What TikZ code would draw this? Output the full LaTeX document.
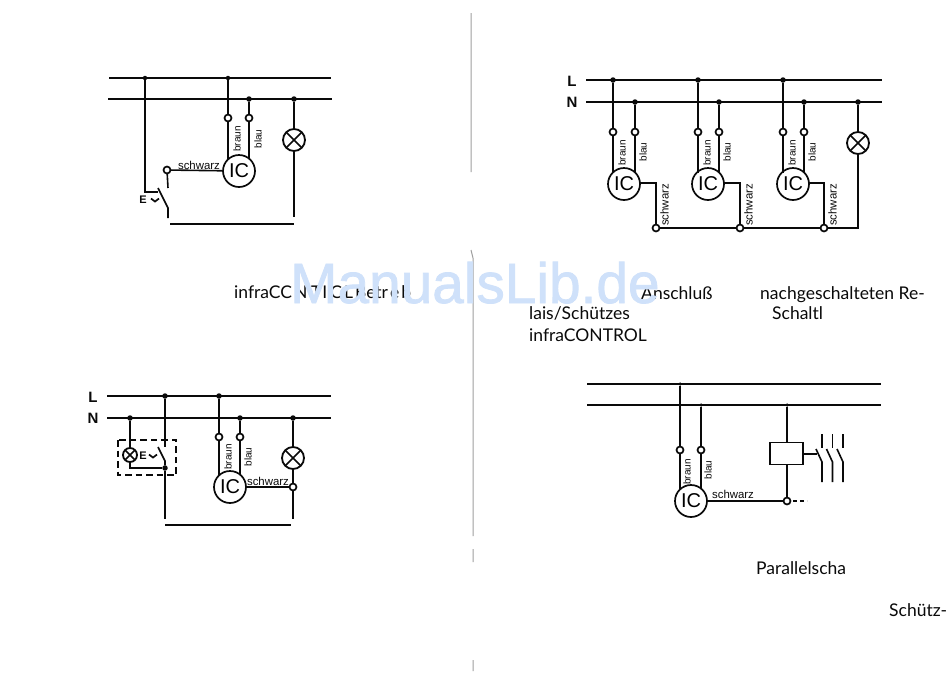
\documentclass[tikz,border=0pt]{standalone}
\usepackage{fontspec}
\setmainfont{Lato}
\newfontfamily\wirefont{Liberation Sans}
\newfontfamily\wmfont[FakeBold=1.3]{Liberation Sans}
\definecolor{wmark}{HTML}{CFE1FA}
\definecolor{ink}{HTML}{0A0A0A}
\tikzset{
  wire/.style={draw=ink,line width=1.6pt},
  bus/.style={draw=ink,line width=2.1pt},
  busthick/.style={draw=ink,line width=2.7pt},
  dot/.style={circle,fill=ink,draw=none,inner sep=0pt,outer sep=0pt,minimum size=5.5pt},
  term/.style={circle,draw=ink,line width=1.7pt,fill=white,inner sep=0pt,outer sep=0pt,minimum size=7pt},
  icnode/.style={circle,draw=ink,line width=1.7pt,fill=white,inner sep=0pt,outer sep=0pt,minimum size=32pt,font=\wirefont\fontsize{20}{20}\selectfont},
  lampnode/.style={circle,draw=ink,line width=1.8pt,fill=white,inner sep=0pt,outer sep=0pt,minimum size=#1,
    path picture={\draw[ink,line width=1.7pt] (path picture bounding box.north west)--(path picture bounding box.south east)
      (path picture bounding box.north east)--(path picture bounding box.south west);}},
  wl/.style={font=\wirefont\fontsize{10}{10}\selectfont,inner sep=0pt,text=ink},
  sl/.style={font=\wirefont\fontsize{11.4}{11}\selectfont,inner sep=0pt,text=ink},
  vl/.style={wl,rotate=90},
  vs/.style={sl,rotate=90},
  busl/.style={font=\wirefont\bfseries\fontsize{15}{15}\selectfont,inner sep=0pt,text=ink},
  el/.style={font=\wirefont\bfseries\fontsize{11}{11}\selectfont,inner sep=0pt,text=ink},
  captxt/.style={font=\fontsize{17.5}{18}\selectfont,inner sep=0pt,anchor=base west,text=ink},
  fold/.style={draw=gray!75,line width=1pt},
  relay/.style={rectangle,draw=ink,line width=1.7pt,fill=white,inner sep=0pt,outer sep=0pt,minimum width=33pt,minimum height=22pt}
}
\newcommand{\arrowmark}[1]{\draw[ink,line width=1.7pt] ([shift={(-4,-1.5)}]#1) -- ([shift={(0,1.5)}]#1) -- ([shift={(4,-1.5)}]#1);}
\begin{document}
\begin{tikzpicture}[x=1pt,y=-1pt]
\useasboundingbox (0,0) rectangle (950,673);
\fill[white] (0,0) rectangle (950,673);

% fold
\coordinate (f1) at (471,13); \coordinate (f2) at (471,172);
\coordinate (f0) at (471,250);
\coordinate (f3) at (473,258); \coordinate (f4) at (473,536);
\coordinate (f5) at (473,549); \coordinate (f6) at (473,562);
\coordinate (f7) at (473,660); \coordinate (f8) at (473,671);
\draw[fold] (f1)--(f2) (f3)--(f4) (f5)--(f6) (f7)--(f8) (f0)--(f3);

% ---------- diagram 1
\coordinate (aLw) at (109,78); \coordinate (aLe) at (331,78);
\coordinate (aNw) at (108,99); \coordinate (aNe) at (332,99);
\draw[bus] (aLw)--(aLe);
\draw[busthick] (aNw)--(aNe);
\node[dot,minimum size=4.5pt] (a1) at (145,78) {};
\node[dot,minimum size=4.5pt] (a2) at (228,78) {};
\node[dot] (a3) at (249,99) {};
\node[dot] (a4) at (294,99) {};
\node[term] (atb) at (228,118) {};
\node[term] (atu) at (249,118) {};
\node[icnode] (aic) at (239,171) {IC};
\node[lampnode=22pt] (alamp) at (294,140) {};
\node[term] (ats) at (167,170) {};
\coordinate (ac1) at (145,192); \coordinate (ac2) at (158,192);
\coordinate (as1) at (158,188); \coordinate (as2) at (168,208);
\coordinate (as3) at (168,218); \coordinate (as4) at (168,188);
\coordinate (al) at (294,217);
\coordinate (abw) at (170,224); \coordinate (abe) at (294,224);
\draw[wire] (a1)--(ac1)--(ac2);
\draw[wire] (as1)--(as2)--(as3);
\draw[wire] (ats)--(as4);
\draw[wire] (ats)--(aic);
\draw[wire] (a2)--(atb);
\draw[wire] (a3)--(atu);
\draw[wire] (atb)--(atb|-aic.135);
\draw[wire] (atu)--(atu|-aic.50);
\draw[wire] (a4)--(alamp) (alamp)--(al);
\draw[bus] (abw)--(abe);
\node[vl] (ab) at (237,139) {braun};
\node[vl] (au) at (258,139) {blau};
\node[sl] (as) at (199,165) {schwarz};
\node[el] (ae) at (143,200) {E};
\coordinate (am) at (155,200); \arrowmark{am}

% ---------- diagram 2
\coordinate (bLw) at (107,396); \coordinate (bLe) at (331,396);
\coordinate (bNw) at (107,418); \coordinate (bNe) at (331,418);
\draw[bus] (bLw)--(bLe);
\draw[bus] (bNw)--(bNe);
\node[busl] (bL) at (93,397) {L};
\node[busl] (bN) at (93,418) {N};
\node[dot] (b1) at (165,396) {};
\node[dot] (b2) at (219,396) {};
\node[dot] (b3) at (130,418) {};
\node[dot] (b4) at (240,418) {};
\node[dot] (b5) at (293,418) {};
\node[lampnode=14pt] (bsl) at (130,455) {};
\node[dot] (bj) at (165,468) {};
\coordinate (bc) at (130,468);
\coordinate (bs0) at (165,447); \coordinate (bs1) at (158,447); \coordinate (bs2) at (165,461);
\coordinate (bd) at (165,519);
\node[term] (btb) at (219,437) {};
\node[term] (btu) at (240,437) {};
\node[icnode] (bic) at (230,487) {IC};
\node[lampnode=22pt] (blamp) at (293,458) {};
\node[term] (bts) at (293,487) {};
\coordinate (bl) at (293,519);
\coordinate (bbw) at (165,525); \coordinate (bbe) at (291,525);
\draw[wire] (b1)--(bs0);
\draw[wire] (bs1)--(bs2)--(bj);
\draw[wire] (bj)--(bd);
\draw[wire] (b3)--(bsl);
\draw[wire] (bsl)--(bc)--(bj);
\draw[wire] (b2)--(btb);
\draw[wire] (b4)--(btu);
\draw[wire] (btb)--(btb|-bic.135);
\draw[wire] (btu)--(btu|-bic.50);
\draw[wire] (b5)--(blamp);
\draw[wire] (blamp)--(bts);
\draw[wire] (bts)--(bl);
\draw[wire] (bic)--(bts);
\draw[bus] (bbw)--(bbe);
\coordinate (bx1) at (118,440); \coordinate (bx2) at (176,475);
\draw[draw=ink,line width=1.4pt,dash pattern=on 6.5pt off 4pt] (bx1) rectangle (bx2);
\node[vl] (bb) at (228,457) {braun};
\node[vl] (bu) at (248,457) {blau};
\node[sl] (bs) at (268,481) {schwarz};
\node[el] (be) at (143,456) {E};
\coordinate (bm) at (153,456); \arrowmark{bm}

% ---------- diagram 3
\coordinate (cLw) at (586,80); \coordinate (cLe) at (882,80);
\coordinate (cNw) at (586,102); \coordinate (cNe) at (882,102);
\draw[bus] (cLw)--(cLe);
\draw[bus] (cNw)--(cNe);
\node[busl] (cL) at (572,81) {L};
\node[busl] (cN) at (572,102) {N};
\foreach \n/\icx/\bx/\ux/\sx in {1/624/613/635/656, 2/708/698/719/740, 3/793/783/804/824}{
  \node[dot] (cdb\n) at (\bx,80) {};
  \node[dot] (cdu\n) at (\ux,102) {};
  \node[term] (ctb\n) at (\bx,132) {};
  \node[term] (ctu\n) at (\ux,132) {};
  \node[icnode] (cic\n) at (\icx,184) {IC};
  \node[term] (cts\n) at (\sx,228) {};
  \coordinate (cc\n) at (\sx,183);
  \draw[wire] (cdb\n)--(ctb\n);
  \draw[wire] (cdu\n)--(ctu\n);
  \draw[wire] (ctb\n)--(ctb\n|-cic\n.135);
  \draw[wire] (ctu\n)--(ctu\n|-cic\n.50);
  \draw[wire] (cic\n.east|-cc\n)--(cc\n)--(cts\n);
  \node[vl] (cb\n) at (\bx+9,153) {braun};
  \node[vl] (cu\n) at (\ux+8,152) {blau};
  \node[vs] (cs\n) at (\sx+8.5,205) {schwarz};
}
\node[dot] (cd4) at (858,102) {};
\node[lampnode=22pt] (clamp) at (858,143) {};
\coordinate (cc4) at (858,228);
\draw[wire] (cd4)--(clamp);
\draw[wire] (clamp)--(cc4)--(cts3);
\draw[wire] (cts3)--(cts2);
\draw[wire] (cts2)--(cts1);

% ---------- diagram 4
\coordinate (dLw) at (587,384); \coordinate (dLe) at (881,384);
\coordinate (dNw) at (587,405); \coordinate (dNe) at (881,405);
\draw[bus,line width=1.5pt] (dLw)--(dLe);
\draw[bus] (dNw)--(dNe);
\node[dot,minimum size=3.5pt] (d1) at (680,384) {};
\node[dot,minimum size=3.5pt] (d2) at (701,405) {};
\node[dot,minimum size=3.5pt] (d3) at (787,405) {};
\node[term] (dtb) at (680,450) {};
\node[term] (dtu) at (701,450) {};
\node[icnode] (dic) at (691,501) {IC};
\node[relay] (drel) at (786.5,453.5) {};
\node[term] (dts) at (787,501) {};
\coordinate (dda) at (793,501); \coordinate (ddb) at (807,501);
\draw[wire] (d1)--(dtb);
\draw[wire] (d2)--(dtu);
\draw[wire] (dtb)--(dtb|-dic.135);
\draw[wire] (dtu)--(dtu|-dic.50);
\draw[wire] (d3)--(d3|-drel.north);
\draw[wire] (d3|-drel.south)--(dts);
\draw[wire] (dic)--(dts);
\draw[draw=ink,line width=1.4pt,dash pattern=on 4pt off 3pt] (dda)--(ddb);
\coordinate (dk) at (817,454);
\draw[wire] (drel.east|-dk)--(dk);
\foreach \n/\x in {1/822,2/832.5,3/843}{
  \coordinate (dkt\n) at (\x,434); \coordinate (dku\n) at (\x,448);
  \coordinate (dka\n) at (\x-6,449); \coordinate (dkb\n) at (\x,462); \coordinate (dkc\n) at (\x,482);
  \draw[wire] (dkt\n)--(dku\n);
  \draw[wire] (dka\n)--(dkb\n)--(dkc\n);
}
\node[vl] (db) at (687,472) {braun};
\node[vl] (du) at (708,470) {blau};
\node[sl] (ds) at (733,494) {schwarz};

% ---------- captions
\path (234,298) node[captxt] (t1) {infraCC\kern2pt N'T\kern1pt I\kern3pt C\kern2pt L\kern2pt Betr\kern2pt e\kern2pt b};
\path (641,299) node[captxt] (t2) {Anschluß};
\path (760,299) node[captxt] (t3) {nachgeschalteten Re-};
\path (529,319) node[captxt] (t4) {lais/Schützes};
\path (772,319) node[captxt] (t5) {Schaltl};
\path (529,341) node[captxt] (t6) {infraCONTROL};
\path (756,574) node[captxt] (t7) {Parallelscha};
\path (889,616) node[captxt] (t8) {Schütz-};

% ---------- watermark
\node[font=\wmfont\fontsize{56.8}{57}\selectfont,text=wmark,inner sep=0pt,anchor=base west] (wm) at (290,303) {ManualsLib.de};
\end{tikzpicture}
\end{document}
